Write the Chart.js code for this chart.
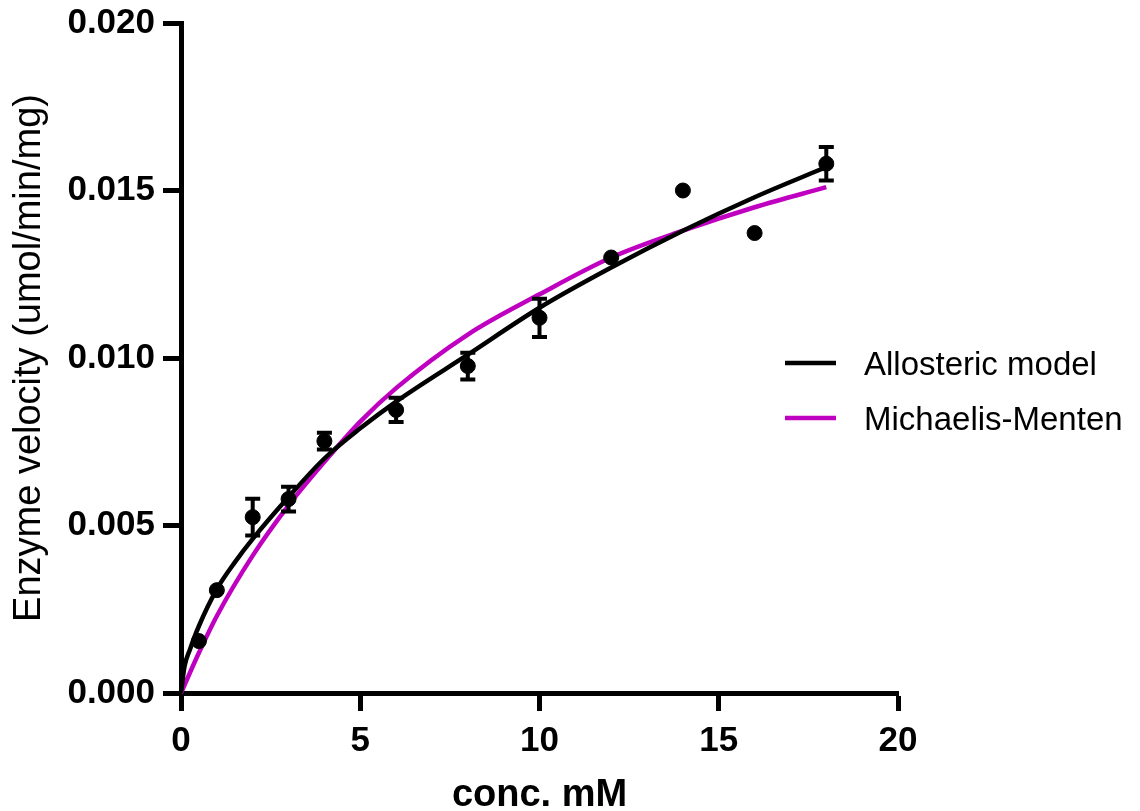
<!DOCTYPE html>
<html>
<head>
<meta charset="utf-8">
<script src="https://cdn.jsdelivr.net/npm/chart.js@4.4.1/dist/chart.umd.min.js"></script>
<style>
  html, body { margin: 0; padding: 0; background: #fff; }
</style>
</head>
<body>
<canvas id="chart" width="1140" height="811"></canvas>
<script>
// measured points (mean +/- error)
const conc = [0.5, 1, 2, 3, 4, 6, 8, 10, 12, 14, 16, 18];
const velocity = [0.00155, 0.00307, 0.00525, 0.00579, 0.00752, 0.00845, 0.00976, 0.0112, 0.0130, 0.0150, 0.01373, 0.0158];
const velocityErr = [0, 0, 0.00055, 0.00037, 0.00025, 0.00036, 0.0004, 0.00057, 0, 0, 0, 0.0005];

// fitted curves
const allostericX = [0, 0.1, 0.25, 0.5, 1, 1.5, 2, 3, 4, 5, 6, 8, 10, 12, 14, 16, 18];
const allostericY = [0, 0.0008, 0.0013, 0.0020, 0.0031, 0.0039, 0.0046, 0.00585, 0.0070, 0.0079, 0.0087, 0.0101, 0.0115, 0.0127, 0.0138, 0.0148, 0.0157];
const mmX = [0, 0.5, 1, 2, 3, 4, 5, 6, 8, 10, 12, 14, 16, 18];
const mmY = [0, 0.0012, 0.0023, 0.0041, 0.0056, 0.0069, 0.0081, 0.0091, 0.0107, 0.0119, 0.0130, 0.0138, 0.0145, 0.0151];

const seriesNames = ['Allosteric model', 'Michaelis-Menten'];
const seriesColors = ['#000000', '#c000c0'];

const toXY = (xs, ys) => xs.map((x, i) => ({ x: x, y: ys[i] }));

// error bars with caps, drawn through the chart scales
const errorBars = {
  id: 'errorBars',
  afterDatasetsDraw(chart) {
    const { ctx, scales: { x, y } } = chart;
    ctx.save();
    ctx.strokeStyle = '#000';
    ctx.lineWidth = 4;
    conc.forEach((c, i) => {
      const e = velocityErr[i];
      if (!e) return;
      const px = x.getPixelForValue(c);
      const top = y.getPixelForValue(velocity[i] + e);
      const bot = y.getPixelForValue(velocity[i] - e);
      ctx.beginPath();
      ctx.moveTo(px, top); ctx.lineTo(px, bot);
      ctx.moveTo(px - 7.5, top); ctx.lineTo(px + 7.5, top);
      ctx.moveTo(px - 7.5, bot); ctx.lineTo(px + 7.5, bot);
      ctx.stroke();
    });
    ctx.restore();
  }
};

// legend to the right of the plot
const sideLegend = {
  id: 'sideLegend',
  afterDraw(chart) {
    const { ctx } = chart;
    ctx.save();
    ctx.font = '33px "Liberation Sans", Arial, sans-serif';
    ctx.textBaseline = 'alphabetic';
    ctx.fillStyle = '#000';
    seriesNames.forEach((name, i) => {
      const yMid = 363 + i * 55;
      ctx.strokeStyle = seriesColors[i];
      ctx.lineWidth = 4.5;
      ctx.beginPath();
      ctx.moveTo(785, yMid); ctx.lineTo(836, yMid);
      ctx.stroke();
      ctx.fillText(name, 864, yMid + 12);
    });
    ctx.restore();
  }
};

new Chart(document.getElementById('chart'), {
  type: 'scatter',
  data: {
    datasets: [
      {
        label: 'data',
        data: toXY(conc, velocity),
        backgroundColor: '#000',
        borderColor: '#000',
        pointRadius: 7.5,
        pointHoverRadius: 7.5,
        showLine: false,
        clip: false,
        order: 0
      },
      {
        label: seriesNames[0],
        data: toXY(allostericX, allostericY),
        showLine: true,
        borderColor: seriesColors[0],
        borderWidth: 4.5,
        pointRadius: 0,
        cubicInterpolationMode: 'monotone',
        clip: false,
        order: 1
      },
      {
        label: seriesNames[1],
        data: toXY(mmX, mmY),
        showLine: true,
        borderColor: seriesColors[1],
        borderWidth: 4.5,
        pointRadius: 0,
        cubicInterpolationMode: 'monotone',
        clip: false,
        order: 2
      }
    ]
  },
  options: {
    responsive: false,
    animation: false,
    devicePixelRatio: 1,
    layout: { padding: { top: 23, right: 242, left: 0, bottom: 0 } },
    plugins: { legend: { display: false }, tooltip: { enabled: false } },
    scales: {
      x: {
        type: 'linear',
        min: 0,
        max: 20,
        afterFit: s => { s.height = 118; s.paddingLeft = 0; s.paddingRight = 0; },
        border: { color: '#000', width: 5 },
        grid: { drawOnChartArea: false, tickLength: 18, tickWidth: 5, tickColor: '#000' },
        ticks: {
          stepSize: 5,
          padding: 9,
          color: '#000',
          font: { family: '"Liberation Sans", Arial', size: 35, weight: 'bold' }
        },
        title: {
          display: true,
          text: 'conc. mM',
          color: '#000',
          padding: { top: 0, bottom: -4 },
          font: { family: '"Liberation Sans", Arial', size: 38, weight: 'bold', lineHeight: 1 }
        }
      },
      y: {
        type: 'linear',
        min: 0,
        max: 0.02,
        afterFit: s => { s.width = 181; s.paddingTop = 0; s.paddingBottom = 0; },
        border: { color: '#000', width: 5 },
        grid: { drawOnChartArea: false, tickLength: 18, tickWidth: 5, tickColor: '#000' },
        ticks: {
          stepSize: 0.005,
          padding: 8,
          color: '#000',
          callback: v => v.toFixed(3),
          font: { family: '"Liberation Sans", Arial', size: 35, weight: 'bold' }
        },
        title: {
          display: true,
          text: 'Enzyme velocity (umol/min/mg)',
          color: '#000',
          padding: { top: 7, bottom: 0 },
          font: { family: '"Liberation Sans", Arial', size: 38, weight: 'normal' }
        }
      }
    }
  },
  plugins: [errorBars, sideLegend]
});
</script>
</body>
</html>
